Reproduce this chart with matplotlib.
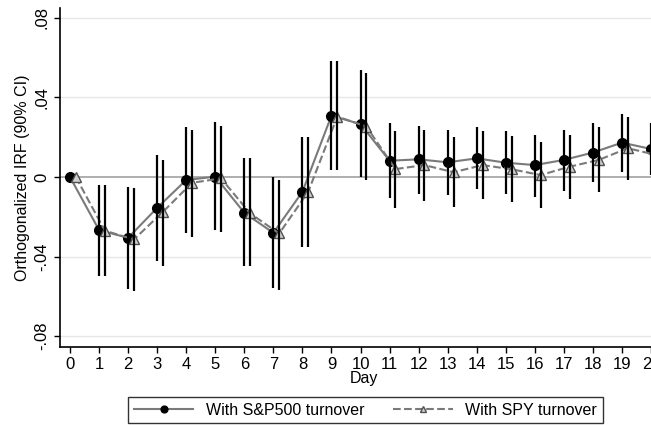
import numpy as np
import matplotlib.pyplot as plt

plt.rcParams['font.family'] = ['Liberation Sans', 'DejaVu Sans']

days = list(range(21))

# S&P500 turnover model: IRF and 90% CI
sp_irf = [0.0, -0.0267, -0.0306, -0.0155, -0.0015, 0.0002, -0.0180, -0.0281, -0.0074,
          0.0309, 0.0266, 0.0082, 0.0089, 0.0074, 0.0094, 0.0072, 0.0060, 0.0086,
          0.0123, 0.0173, 0.0141]
sp_hi = [0.0, -0.0040, -0.0049, 0.0110, 0.0254, 0.0276, 0.0094, -0.0002, 0.0203,
         0.0582, 0.0536, 0.0274, 0.0259, 0.0237, 0.0251, 0.0229, 0.0212, 0.0237,
         0.0274, 0.0318, 0.0270]
sp_lo = [0.0, -0.0500, -0.0565, -0.0424, -0.0280, -0.0267, -0.0450, -0.0558, -0.0353,
         0.0035, 0.0002, -0.0108, -0.0086, -0.0091, -0.0062, -0.0086, -0.0099, -0.0069,
         -0.0027, 0.0027, 0.0010]

# SPY turnover model
spy_irf = [0.0, -0.0270, -0.0314, -0.0175, -0.0029, -0.0007, -0.0183, -0.0284, -0.0074,
           0.0304, 0.0254, 0.0040, 0.0060, 0.0024, 0.0060, 0.0039, 0.0010, 0.0052,
           0.0086, 0.0145, 0.0110]
spy_hi = [0.0, -0.0040, -0.0057, 0.0086, 0.0237, 0.0259, 0.0094, -0.0015, 0.0203,
          0.0582, 0.0524, 0.0229, 0.0237, 0.0200, 0.0229, 0.0207, 0.0175, 0.0212,
          0.0251, 0.0304, 0.0260]
spy_lo = [0.0, -0.0500, -0.0574, -0.0447, -0.0301, -0.0279, -0.0450, -0.0567, -0.0353,
          0.0035, -0.0015, -0.0158, -0.0121, -0.0150, -0.0113, -0.0128, -0.0158, -0.0113,
          -0.0077, -0.0015, -0.0030]

yticks = [-0.08, -0.04, 0, 0.04, 0.08]
ylabels = ['-.08', '-.04', '0', '.04', '.08']

x1 = np.array(days)
x2 = x1 + 0.2

fig = plt.figure(figsize=(6.51, 4.25), dpi=100)
ax = fig.add_axes([0.0922, 0.1835, 0.934, 0.7976])

for y in yticks:
    if y != 0:
        ax.axhline(y, color='#e6e6e6', lw=1, zorder=0)
ax.axhline(0, color='#a8a8a8', lw=1.3, zorder=0)

ax.plot(x1, sp_irf, '-', color='#7a7a7a', lw=1.5, marker='o', ms=7,
        mfc='black', mec='black', zorder=3, label='With S&P500 turnover')
ax.plot(x2, spy_irf, '--', color='#7a7a7a', lw=1.5, marker='^', ms=7,
        mfc='#d0d0d0', mec='#505050', zorder=3, label='With SPY turnover')
ax.vlines(x1, sp_lo, sp_hi, color='black', lw=1.6, zorder=4)
ax.vlines(x2, spy_lo, spy_hi, color='black', lw=1.6, zorder=4)

ax.set_xlim(-0.344, 20.585)
ax.set_ylim(-0.0855, 0.085)
ax.set_xticks(days)
ax.set_yticks(yticks)
ax.set_yticklabels(ylabels, rotation=90, va='center')
ax.tick_params(axis='both', direction='out', length=4, width=1, labelsize=12, colors='black')
ax.spines['top'].set_visible(False)
ax.spines['right'].set_visible(False)
ax.spines['left'].set_linewidth(1.2)
ax.spines['bottom'].set_linewidth(1.2)

ax.set_xlabel('Day', fontsize=11.5, labelpad=-1)
ax.set_ylabel('Orthogonalized IRF (90% CI)', fontsize=11.5, labelpad=3)

leg = fig.legend(loc='upper left', bbox_to_anchor=(128 / 651, 1 - 397 / 425), ncol=2,
                 fontsize=11.5, frameon=True, fancybox=False, edgecolor='black',
                 handlelength=3.75, handletextpad=0.8, columnspacing=1.75,
                 borderpad=0.35, borderaxespad=0, markerscale=0.7)
leg.get_frame().set_linewidth(1.0)

fig.savefig('out.png', dpi=100)
